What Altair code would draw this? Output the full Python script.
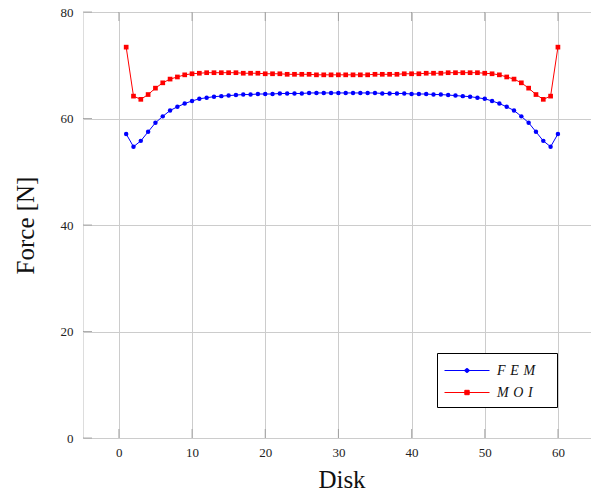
import altair as alt
import pandas as pd

disks = list(range(1, 61))

fem = [57.1, 54.7, 55.8, 57.5, 59.2, 60.4, 61.5, 62.2, 62.8, 63.3,
       63.7, 63.9, 64.1, 64.2, 64.3, 64.4, 64.5, 64.5, 64.6, 64.6,
       64.6, 64.7, 64.7, 64.7, 64.7, 64.8, 64.8, 64.8, 64.8, 64.8,
       64.8, 64.8, 64.8, 64.8, 64.8, 64.7, 64.7, 64.7, 64.7, 64.6,
       64.6, 64.6, 64.5, 64.5, 64.4, 64.3, 64.2, 64.1, 63.9, 63.7,
       63.3, 62.8, 62.2, 61.5, 60.4, 59.2, 57.5, 55.8, 54.7, 57.1]

moi = [73.4, 64.2, 63.6, 64.5, 65.7, 66.7, 67.4, 67.8, 68.2, 68.4,
       68.5, 68.6, 68.6, 68.6, 68.6, 68.6, 68.5, 68.5, 68.5, 68.4,
       68.4, 68.4, 68.3, 68.3, 68.3, 68.3, 68.2, 68.2, 68.2, 68.2,
       68.2, 68.2, 68.2, 68.2, 68.3, 68.3, 68.3, 68.3, 68.4, 68.4,
       68.4, 68.5, 68.5, 68.5, 68.6, 68.6, 68.6, 68.6, 68.6, 68.5,
       68.4, 68.2, 67.8, 67.4, 66.7, 65.7, 64.5, 63.6, 64.2, 73.4]

series_names = ["FEM", "MOI"]
series_colors = ["#0000ff", "#ff0000"]
series_shapes = ["circle", "square"]
x_ticks = [0, 10, 20, 30, 40, 50, 60]
y_ticks = [0, 20, 40, 60, 80]

df = pd.DataFrame({
    "Disk": disks + disks,
    "Force": fem + moi,
    "Series": ["FEM"] * len(fem) + ["MOI"] * len(moi),
})
xt = pd.DataFrame({"t": x_ticks})
yt = pd.DataFrame({"t": y_ticks})
leg_df = pd.DataFrame({"Series": series_names})

FONT = "Liberation Serif"
W, H = 517, 426

xscale = alt.Scale(domain=[-4.9, 65.75], nice=False, zero=False)
yscale = alt.Scale(domain=[0, 80], nice=False)

xaxis = alt.Axis(values=x_ticks, grid=True, gridColor="#cccccc", ticks=False,
                 domain=False, labelFont=FONT, labelFontSize=13, labelPadding=8,
                 labelColor="#222", title="Disk", titleFont=FONT, titleFontSize=25,
                 titleFontWeight="normal", titlePadding=8, titleColor="#111")
yaxis = alt.Axis(values=y_ticks, grid=True, gridColor="#cccccc", ticks=False,
                 domain=False, labelFont=FONT, labelFontSize=13, labelPadding=10,
                 labelColor="#222", title="Force [N]", titleFont=FONT, titleFontSize=25,
                 titleFontWeight="normal", titlePadding=22, titleColor="#111")

circle_path = "M-1,0H3.5M1.45,0A0.2,0.2,0,1,1,1.05,0A0.2,0.2,0,1,1,1.45,0Z"
square_path = "M-1,0H3.5M1.03,-0.22H1.47V0.22H1.03Z"

SP = "\u2004"
TAIL = "\u00a0\u00a0\u00a0\u00a0\u200b"
legend = alt.Legend(
    orient="none", legendX=354, legendY=341, title=None,
    fillColor="white", strokeColor="black", padding=7,
    symbolSize=400, symbolStrokeWidth=1, labelOffset=32,
    labelFont=FONT, labelFontSize=14, labelFontStyle="italic", labelColor="#111",
    rowPadding=4, symbolOpacity=1,
    labelExpr="datum.label == 'FEM' ? 'F" + SP + "E" + SP + "M" + TAIL + "' : 'M" + SP + "O" + SP + "I" + TAIL + "'",
)

base = alt.Chart(df)
layers = []
for i, (name, col, shp, sz) in enumerate(zip(series_names, series_colors, series_shapes, [20, 22])):
    sub = base.transform_filter(alt.datum.Series == name)
    if i == 0:
        enc_x = alt.X("Disk:Q", scale=xscale, axis=xaxis)
        enc_y = alt.Y("Force:Q", scale=yscale, axis=yaxis)
    else:
        enc_x = alt.X("Disk:Q", scale=xscale)
        enc_y = alt.Y("Force:Q", scale=yscale)
    layers.append(sub.mark_line(strokeWidth=1, color=col).encode(x=enc_x, y=enc_y))
    layers.append(sub.mark_point(filled=True, opacity=1, shape=shp, size=sz, color=col).encode(
        x=alt.X("Disk:Q", scale=xscale), y=alt.Y("Force:Q", scale=yscale)))

cscale = alt.Scale(domain=series_names, range=series_colors)
legend_layer = alt.Chart(leg_df).mark_point(filled=False, opacity=1, strokeWidth=1, clip=True).encode(
    x=alt.value(-100), y=alt.value(-100),
    color=alt.Color("Series:N", scale=cscale, legend=legend),
    fill=alt.Fill("Series:N", scale=cscale, legend=legend),
    shape=alt.Shape("Series:N", scale=alt.Scale(domain=series_names, range=[circle_path, square_path]),
                    legend=legend),
)

TICK = "#8c8c8c"
tb = alt.Chart(xt).mark_tick(orient="vertical", size=9, thickness=1, color=TICK).encode(
    x=alt.X("t:Q", scale=xscale), y=alt.value(H - 4.5))
tt = alt.Chart(xt).mark_tick(orient="vertical", size=9, thickness=1, color=TICK).encode(
    x=alt.X("t:Q", scale=xscale), y=alt.value(4.5))
tl = alt.Chart(yt).mark_tick(orient="horizontal", size=9, thickness=1, color=TICK).encode(
    y=alt.Y("t:Q", scale=yscale), x=alt.value(4.5))
tr = alt.Chart(yt).mark_tick(orient="horizontal", size=9, thickness=1, color=TICK).encode(
    y=alt.Y("t:Q", scale=yscale), x=alt.value(W - 4.5))

chart = alt.layer(tb, tt, tl, tr, *layers, legend_layer).properties(
    width=W, height=H,
    autosize=alt.AutoSizeParams(type="none"),
    padding={"left": 75, "top": 4, "right": -9, "bottom": 56},
).configure_view(
    stroke="#333333", strokeWidth=1
).configure(background="white")

chart.save("out.html", embed_options={"renderer": "svg", "actions": False})
